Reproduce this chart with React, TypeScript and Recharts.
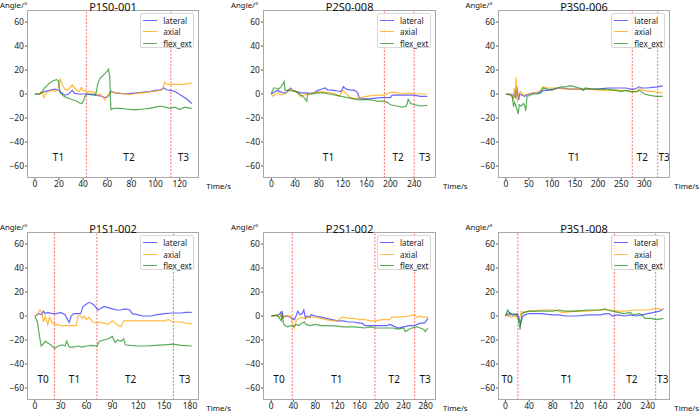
import { LineChart, Line, XAxis, YAxis, ReferenceLine, ReferenceDot } from "recharts";

type Pt = [number, number];

// ---- data: [time s, angle deg] ----
const p1Lateral: Pt[] = [[0,0],[4,0],[6,1],[8,2],[12,3],[17,4],[20,3],[22,1],[25,-1],[28,0],[31,3],[33,0.5],[37,0],[42,0],[46,-0.5],[50,-1],[54,-1.5],[57,-2.5],[59,-3],[61,-1.5],[63,2.5],[66,1],[70,0.5],[75,0],[80,0.5],[85,1],[90,1.5],[95,2],[100,3],[104,3.5],[107,5],[109,3.5],[112,3],[115,2.5],[118,1],[121,-1],[125,-3.5],[128,-6],[130,-8]];
const p1Axial: Pt[] = [[0,0],[4,0],[6,2],[7.5,-3],[9,0],[11,2],[14,3],[17,2],[19,4],[21,12.5],[23,7],[25,4],[27,3],[29,5],[31,7.5],[33,5],[35,3],[37,2],[38.5,5.5],[40,3],[43,2],[47,2],[50,1],[52,-1],[54,0],[56,-2],[58,-5],[60,-2],[62,1],[64,2],[67,1],[72,0.5],[78,-0.5],[82,0],[86,1],[90,1],[95,2],[100,2.5],[104,3],[106,4],[107.5,10],[109,8],[113,8],[118,8],[122,8],[126,8.5],[130,9]];
const p1Flex: Pt[] = [[0,0],[4,0],[6,2],[8,5],[10,7],[12,9],[15,11],[18,12],[19.5,11],[21,1],[23,-1],[26,-3],[29,-4],[32,-5],[35,-6],[37,-7.5],[39,-8],[40.5,-5],[42,-1],[44,0],[48,0],[50,-1],[51,2],[52,8],[54,13],[56,15],[58,17],[60,19],[61,20.5],[62,15],[63,-13],[65,-12],[70,-12],[75,-12.5],[80,-13],[85,-13],[90,-12.5],[95,-12],[100,-11],[104,-10],[108,-11],[112,-12],[116,-11],[120,-13],[124,-11],[127,-11.5],[130,-12]];

const p2Lateral: Pt[] = [[0,0],[3,1],[6,2],[10,3],[15,2],[20,1],[25,1],[28,3],[32,5],[36,3],[42,2],[50,1],[58,1],[65,0.5],[72,1],[78,3],[84,4],[90,5],[95,3.5],[105,3],[112,2.5],[117,2],[121,6],[126,4],[132,3.5],[140,3],[145,1],[148,-4],[155,-4],[165,-4],[175,-3.5],[185,-3],[195,-3],[200,-3],[203,-1],[215,-1],[228,-1],[240,-1],[250,-2],[262,-2]];
const p2Axial: Pt[] = [[0,0],[3,-2],[7,0],[12,1],[17,-1],[23,0],[28,2],[31,4],[36,3],[41,2],[45,0],[48,-2],[54,-1],[62,0],[72,1],[82,2],[90,1.5],[100,1],[108,0],[113,-2],[117,0.5],[121,3],[126,0],[133,-3],[140,-4],[150,-3],[160,-2],[175,-1],[190,-1],[197,1],[205,1.5],[212,1],[220,0],[230,1],[240,0],[252,0],[262,0]];
const p2Flex: Pt[] = [[0,0],[2,3],[4,5],[8,5],[12,4],[16,6],[19,8],[21.5,10.5],[23,3],[28,3],[35,2.5],[42,2],[50,-1],[55,-3],[59.5,-6],[61,0],[68,0],[78,1],[88,1],[98,0],[108,-1],[118,-2],[128,-3],[138,-4],[148,-5],[158,-4.5],[168,-5],[178,-6],[188,-6],[195,-7],[200,-9],[210,-10],[220,-11],[227,-10],[230,-4.5],[234,-8],[242,-9],[252,-10],[262,-9.5]];

const p3Lateral: Pt[] = [[0,0],[10,0],[16,-1],[18,-3],[20,3],[21.5,-4],[24,6],[26,-1],[28,-5],[30,0],[35,-1],[40,-2],[45,-1],[50,0],[60,1],[70,1],[76,2],[82,3],[90,3],[100,4],[120,5],[140,4],[160,4],[180,4],[200,4],[220,5],[240,5],[260,5],[270,4],[280,4],[288,6],[295,5],[305,5],[318,5.5],[330,6],[340,7]];
const p3Axial: Pt[] = [[0,0],[10,0],[14,-2],[16,-6],[18,5],[20,-3],[22.4,14],[25,-7],[28,0],[32,2],[38,-1],[45,0],[55,0],[65,1],[75,3],[81,6],[90,5],[110,5],[130,4],[150,4],[180,4],[210,3],[240,3],[260,3],[275,2],[285,2],[290,5],[298,3],[320,2],[340,1]];
const p3Flex: Pt[] = [[0,0],[10,-1],[14,-2],[16.6,-10.5],[19,-7],[21,-9],[24,-13],[26.8,-16.5],[29,-9],[33,-10],[38,-8],[41,-10],[43,-14],[46,-2],[52,-1],[60,0],[70,0],[76,1],[80,5],[90,4],[100,3],[110,5],[120,6],[130,6],[140,7],[150,6],[160,5],[168,3],[172,5],[185,4],[200,4],[220,4],[240,3],[250,2],[260,3],[270,2],[282,2],[290,3],[300,0],[310,-1],[325,-2],[340,-2]];

const p4Lateral: Pt[] = [[0,0],[3,1],[5,2],[8,1],[10,4],[12,2],[15,3],[20,2],[25,2],[30,3],[35,1],[38,-3],[40,-5.3],[42,0],[45,2],[50,2],[53,2],[56,8],[60,10],[63,11.4],[67,10],[70,8],[73,5],[76,6],[80,8],[85,7],[90,6],[95,5],[100,5],[105,6],[110,5],[113,2],[120,1],[125,0],[135,0],[140,1],[150,2],[160,2.5],[170,2.5],[175,3],[182,3]];
const p4Axial: Pt[] = [[0,0],[3,2],[6,5],[8,3],[10,-5],[12,0],[15,-7],[17,-1],[20,-6],[25,-7],[30,-8],[40,-8],[48,-8],[50,0],[53,0],[55,-2],[57,0],[60,-3],[63,-1],[67,-5],[72,-6],[75,-5],[80,-6],[85,-7],[90,-4],[95,-7],[100,-9],[103,-4],[110,-4],[125,-4],[140,-4],[150,-4],[155,-3],[160,-5],[170,-5],[175,-6],[182,-6.5]];
const p4Flex: Pt[] = [[0,0],[3,-5],[5,-15],[7.3,-25],[9,-24],[12,-21],[16,-23],[20,-25],[23,-27],[27,-25],[32,-24],[35,-25],[37,-21],[40,-26],[45,-26],[50,-25],[55,-26],[60,-25],[65,-24.5],[72,-25],[75,-21],[80,-20],[85,-19],[90,-17],[93,-22],[96,-20],[100,-21],[103,-19],[105,-24],[110,-24.5],[120,-25],[130,-25],[140,-24.5],[150,-24],[160,-23.5],[170,-24.5],[182,-25]];

const p5Lateral: Pt[] = [[0,0],[10,0.5],[14,1],[17,3],[18,-1],[19.5,4],[22,-1],[28,0],[35,-1],[38,-2],[42,-3],[45,0],[48,4],[52,1],[56,2],[59,5],[62,-2],[65,0],[70,-1],[72,1],[80,0],[90,-1],[100,-2],[110,-3],[120,-4],[130,-4],[140,-5],[150,-5],[160,-6],[165,-6],[170,-8],[190,-8],[200,-8],[210,-8],[215,-7],[220,-8],[230,-10],[240,-9],[250,-8],[260,-8],[270,-6],[278,-6],[284,-2]];
const p5Axial: Pt[] = [[0,0],[10,0],[15,-1],[18,2],[20,-2],[25,0],[35,0],[38,-5],[42,-10],[45,-4],[47,-3],[50,-2],[55,-1],[60,-2],[70,-1],[80,-1],[90,-2],[100,-3],[110,-4],[120,-4],[125,-2],[130,-1],[140,-2],[150,-2],[160,-3],[170,-3],[180,-4],[190,-4],[200,-3],[215,-3],[218,-1],[230,-1],[240,-0.5],[250,0],[258,1],[265,-1],[270,0],[275,-1],[284,-1]];
const p5Flex: Pt[] = [[0,0],[10,1],[15,-2],[18,-4],[20,1],[22,-6],[25,-8],[30,-9],[35,-8],[40,-9],[45,-7],[50,-8],[55,-6],[60,-5],[63,-7],[70,-8],[80,-7],[90,-8],[100,-8],[120,-8.5],[130,-9],[140,-9],[150,-9],[160,-9.5],[170,-10],[180,-9],[190,-10],[200,-10],[210,-10],[220,-10],[230,-11],[240,-10],[243,-13],[250,-11],[255,-10],[265,-9],[270,-10],[276,-11],[279,-13],[284,-10]];

const p6Lateral: Pt[] = [[0,0],[3,2],[5,0],[8,3],[12,1],[16,1],[20,2],[23,-2],[25.4,-6.7],[27,-4],[29,-1],[32,1],[40,2],[60,2],[80,1],[90,1],[100,0],[120,0],[140,1],[160,1],[170,2],[175,2],[180,0],[190,1],[200,0],[210,1],[220,0],[230,1],[240,2],[250,3],[260,4],[266,6]];
const p6Axial: Pt[] = [[0,0],[5,1],[10,-1],[15,0],[20,-1],[23,-2],[25,0],[27,4],[30,3],[40,4],[50,4],[60,5],[80,5],[90,4],[95,3],[100,3],[120,4],[140,4],[160,5],[180,5],[190,4],[200,4],[220,5],[240,5],[250,6],[260,6],[266,5]];
const p6Flex: Pt[] = [[0,0],[4,5],[7,2],[10,1],[15,2],[20,0],[22,-3],[24.8,-11.4],[26,-5],[28,2],[32,3],[40,4],[60,4],[80,4],[90,5],[100,4],[120,4],[140,5],[160,5],[168,6],[172,5],[180,4],[190,3],[200,2],[210,3],[215,1],[225,2],[230,1],[235,-2],[245,-2],[255,-3],[266,-2]];

const yTicks = [-60, -40, -20, 0, 20, 40, 60];
const seriesNames = ["lateral", "axial", "flex_ext"];
const seriesColors = ["#0000ff", "#ffa500", "#008000"];
const seriesAlpha = [0.6, 0.75, 0.65];

const panels = [
  { title: "P1S0-001", left: 26.7, top: 10, domain: [-6.5, 136.5], ticks: [0, 20, 40, 60, 80, 100, 120], phases: [42.7, 112.7], labels: [["T1", 19.6], ["T2", 78], ["T3", 123]], lines: [p1Lateral, p1Axial, p1Flex] },
  { title: "P2S0-008", left: 263.3, top: 10, domain: [-14, 276], ticks: [0, 40, 80, 120, 160, 200, 240], phases: [190, 240], labels: [["T1", 96], ["T2", 213], ["T3", 258]], lines: [p2Lateral, p2Axial, p2Flex] },
  { title: "P3S0-006", left: 497.7, top: 10, domain: [-17, 357], ticks: [0, 50, 100, 150, 200, 250, 300], phases: [274, 329], labels: [["T1", 148], ["T2", 296], ["T3", 343]], lines: [p3Lateral, p3Axial, p3Flex] },
  { title: "P1S1-002", left: 26.7, top: 232.3, domain: [-9.1, 191.1], ticks: [0, 30, 60, 90, 120, 150, 180], phases: [22.8, 72, 160.7], labels: [["T0", 9.6], ["T1", 46], ["T2", 111], ["T3", 174]], lines: [p4Lateral, p4Axial, p4Flex] },
  { title: "P2S1-002", left: 263.3, top: 232.3, domain: [-15, 298], ticks: [0, 40, 80, 120, 160, 200, 240, 280], phases: [38, 188, 260], labels: [["T0", 14], ["T1", 119], ["T2", 223], ["T3", 279]], lines: [p5Lateral, p5Axial, p5Flex] },
  { title: "P3S1-008", left: 497.7, top: 232.3, domain: [-12.4, 278.2], ticks: [0, 40, 80, 120, 160, 200, 240], phases: [21, 183.5, 253], labels: [["T0", 3], ["T1", 103], ["T2", 213], ["T3", 265]], lines: [p6Lateral, p6Axial, p6Flex] },
];

const FONT = "'Noto Sans', sans-serif";
const W = 172.6;
const H = 168;
const YW = 30;
const RM = 4;
const TM = 4;
const XH = 18;
const LABEL_Y = -52.5;

const fmt = (v: number) => (v < 0 ? `\u2212${-v}` : `${v}`);

function Panel({ p }: { p: (typeof panels)[number] }) {
  const { left, top } = p;
  const firstCol = left < 100;
  const lastCol = left > 400;
  const smallText = { fontSize: 7.8, lineHeight: "9px", fontFamily: FONT, color: "#111", whiteSpace: "nowrap" as const };
  return (
    <>
      <div style={{ position: "absolute", left: left - YW, top: top - TM }}>
        <LineChart width={W + YW + RM} height={H + TM + XH} margin={{ top: TM, right: RM, left: 0, bottom: 0 }}>
          <XAxis
            type="number"
            dataKey="t"
            domain={p.domain}
            ticks={p.ticks}
            interval={0}
            allowDataOverflow
            axisLine={false}
            tickSize={2}
            tickMargin={1}
            height={XH}
            tick={{ fontSize: 8.5, fill: "#222", fontFamily: FONT }}
            tickLine={{ stroke: "#555" }}
            tickFormatter={fmt}
          />
          <YAxis
            type="number"
            domain={[-70, 70]}
            ticks={yTicks}
            interval={0}
            allowDataOverflow
            axisLine={false}
            tickSize={2}
            tickMargin={1}
            width={YW}
            tick={{ fontSize: 8.5, fill: "#222", fontFamily: FONT }}
            tickLine={{ stroke: "#555" }}
            tickFormatter={fmt}
          />
          {p.phases.map((x) => (
            <ReferenceLine key={x} x={x} stroke="#ff3333" strokeOpacity={0.65} strokeWidth={1.1} strokeDasharray="2 1.5" />
          ))}
          {p.lines.map((pts, i) => (
            <Line
              key={seriesNames[i]}
              data={pts.map(([t, v]) => ({ t, v }))}
              dataKey="v"
              type="linear"
              stroke={seriesColors[i]}
              strokeOpacity={seriesAlpha[i]}
              strokeWidth={1.2}
              dot={false}
              isAnimationActive={false}
            />
          ))}
          {p.labels.map(([name, x]) => (
            <ReferenceDot
              key={name as string}
              x={x as number}
              y={LABEL_Y}
              r={0}
              shape={(s: any) => (
                <text x={s.cx} y={s.cy} textAnchor="middle" dominantBaseline="central" fontSize={10} fontFamily={FONT} fill="#111">
                  {name}
                </text>
              )}
            />
          ))}
        </LineChart>
      </div>
      {/* axes frame */}
      <div style={{ position: "absolute", left, top, width: W, height: H, border: "1.3px solid #a8a8a8", boxSizing: "border-box", pointerEvents: "none" }} />
      {/* legend */}
      <div style={{ position: "absolute", left: left + W - 5 - 54, top: top + 3, width: 54, height: 35, border: "1px solid #d6d6d6", borderRadius: 2, background: "rgba(255,255,255,0.8)", boxSizing: "border-box" }}>
        {seriesNames.map((n, i) => (
          <div key={n} style={{ position: "absolute", left: 0, top: 1 + i * 11.3, height: 11, width: 54 }}>
            <div style={{ position: "absolute", left: 2, top: 5, width: 14, height: 0, borderTop: `1.2px solid ${seriesColors[i]}`, opacity: seriesAlpha[i] }} />
            <div style={{ position: "absolute", left: 22, top: 0, fontSize: 8, lineHeight: "11px", fontFamily: FONT, color: "#222", whiteSpace: "nowrap" }}>{n}</div>
          </div>
        ))}
      </div>
      {/* title */}
      <div style={{ position: "absolute", left, top: top - 9.5, width: W, textAlign: "center", fontSize: 11, lineHeight: "11px", fontFamily: FONT, color: "#111" }}>{p.title}</div>
      {/* y label */}
      <div
        style={
          firstCol
            ? { ...smallText, position: "absolute", left: 0, top: top - 9.5 }
            : { ...smallText, position: "absolute", left: left - 5 - 40, top: top - 9.5, width: 40, textAlign: "right" }
        }
      >
        Angle/°
      </div>
      {/* x label */}
      <div
        style={
          lastCol
            ? { ...smallText, position: "absolute", right: 1, top: top + H + 4 }
            : { ...smallText, position: "absolute", left: left + W + 7, top: top + H + 4 }
        }
      >
        Time/s
      </div>
    </>
  );
}

export default function App() {
  return (
    <div style={{ position: "fixed", left: 0, top: 0, width: 700, height: 414, background: "#fff", overflow: "hidden" }}>
      {panels.map((p) => (
        <Panel key={p.title} p={p} />
      ))}
    </div>
  );
}
